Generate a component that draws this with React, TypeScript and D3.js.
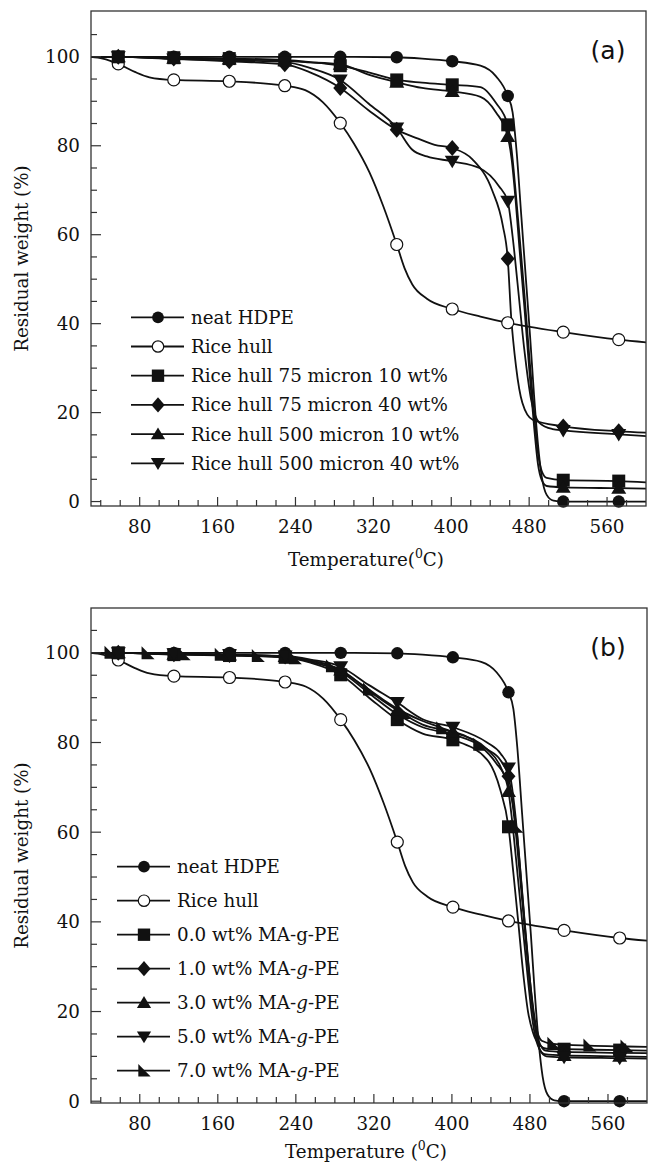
import React from 'react';
import * as d3 from 'd3';

type P = [number, number];

// ---------- shared series (same in both panels) ----------
const hdpeMarks: P[] = [[58,100],[115,100],[172,100],[229,100],[286,100],[344,99.9],[401,99.0],[458,91.2],[515,0],[572,0]];
const hdpeLine: P[] = [[30,100],[300,100],[370,99.6],[430,98.0],[446,95.6],[463,87.5],[467,79],[472,64],[477,49],[481,37],[485,24],[489,13],[493,5.5],[498,1.5],[505,0.2],[600,0]];

const riceMarks: P[] = [[58,98.4],[115,94.8],[172,94.5],[229,93.5],[286,85.1],[344,57.8],[401,43.3],[458,40.2],[515,38.1],[572,36.4]];
const riceLine: P[] = [[30,100],[42,99.6],[75,96.6],[90,95.4],[250,92.5],[268,89.8],[300,80.5],[316,74],[330,66.5],[352,52.5],[360,48.8],[375,45.6],[430,41.6],[600,35.8]];

// ---------- panel (a) ----------
const a75_10Marks: P[] = [[58,100],[115,99.8],[172,99.6],[229,99.3],[286,98.0],[344,94.8],[401,93.7],[458,84.7],[515,4.8],[572,4.6]];
const a75_10Line: P[] = [[30,100],[250,98.9],[315,96.5],[370,94.2],[430,93.2],[446,89.6],[462,79],[466,70],[470,60],[475,47],[480,33],[485,20],[489,11],[493,6.8],[498,5.3],[600,4.3]];

const a75_40Marks: P[] = [[58,100],[115,99.6],[172,99.0],[229,98.3],[286,93.0],[344,83.6],[401,79.5],[458,54.6],[515,16.9],[572,15.8]];
const a75_40Line: P[] = [[30,100],[255,96.5],[315,88.0],[366,81.6],[383,80.2],[422,76.9],[442,70],[453,62],[461.5,41.6],[466.5,30.4],[473,22.2],[483.5,18.4],[600,15.5]];

const a500_10Marks: P[] = [[58,100],[115,99.7],[172,99.5],[229,99.1],[286,98.3],[344,94.3],[401,92.2],[458,82.1],[515,3.2],[572,3.0]];
const a500_10Line: P[] = [[30,100],[250,98.8],[315,96.0],[370,93.0],[430,91.0],[446,87.5],[462,77],[466,68],[470,57],[475,44],[480,30],[485,17],[489,8.5],[493,4.8],[498,3.5],[600,2.9]];

const a500_40Marks: P[] = [[58,100],[115,99.5],[172,99.2],[229,98.8],[286,94.8],[344,84.0],[401,76.5],[458,67.5],[515,16.0],[572,15.1]];
const a500_40Line: P[] = [[30,100],[255,97.5],[315,89.5],[360,79.1],[375,77.6],[429,75],[449,70.9],[463,59.6],[468,49.2],[475,34.2],[482,22.9],[490.5,17.7],[504,16.3],[600,14.7]];

// ---------- panel (b) ----------
const b00Marks: P[] = [[58,100],[115,99.6],[172,99.4],[229,99.0],[286,95.1],[344,85.1],[401,80.6],[458,61.2],[515,11.6],[572,11.4]];
const b00Line: P[] = [[30,100],[255,97.8],[315,90.0],[370,82.0],[436,76.2],[449.5,69.5],[463,50.9],[468,40],[473,28.7],[478,20],[483,15.4],[490,12.5],[497,11.7],[600,11.3]];

const b10Marks: P[] = [[58,100],[115,99.7],[172,99.5],[229,99.2],[286,95.8],[344,86.3],[401,81.8],[458,72.5],[515,11.0],[572,10.8]];
const b10Line: P[] = [[30,100],[255,98.0],[315,91.0],[370,83.4],[436,78.5],[450,76],[464,63],[469,52],[474,40],[479,28],[484,18.5],[489,13.5],[496,11.3],[600,10.7]];

const b30Marks: P[] = [[58,100],[115,99.7],[172,99.5],[229,99.2],[286,96.2],[344,87.2],[401,82.3],[458,69.1],[515,10.2],[572,10.0]];
const b30Line: P[] = [[30,100],[255,98.2],[315,91.5],[370,84.0],[436,78.5],[450,74.5],[463,60],[468,49],[473,38],[478,27],[483,17.5],[488,12.5],[495,10.5],[600,9.9]];

const b50Marks: P[] = [[58,100],[115,99.8],[172,99.6],[229,99.3],[286,96.9],[344,88.9],[401,83.4],[458,74.3],[515,9.8],[572,9.6]];
const b50Line: P[] = [[30,100],[255,98.5],[315,92.8],[370,85.2],[436,80],[450,77.5],[465,64],[470,52],[475,39],[480,27],[485,17],[490,11.5],[497,10],[600,9.5]];

const b70Marks: P[] = [[50,100],[88,99.9],[125,99.7],[163,99.6],[201,99.3],[239,98.8],[277,97.0],[315,91.8],[352,86.6],[390,83.2],[428,79.5],[466,61.2],[504,12.8],[541,12.4],[579,12.2]];
const b70Line: P[] = [[30,100],[255,98.3],[330,89.5],[370,84.8],[445,75.5],[458,70.5],[471,49],[476,36],[481,25],[486,17],[492,13.5],[600,12.1]];

// ---------- labels / ticks ----------
const legendA = ['neat HDPE', 'Rice hull', 'Rice hull 75 micron 10 wt%', 'Rice hull 75 micron 40 wt%', 'Rice hull 500 micron 10 wt%', 'Rice hull 500 micron 40 wt%'];
const legendB = ['neat HDPE', 'Rice hull', '0.0 wt% MA-g-PE', '1.0 wt% MA-g-PE', '3.0 wt% MA-g-PE', '5.0 wt% MA-g-PE', '7.0 wt% MA-g-PE'];
const legendBItalic = [false, false, false, true, true, true, true];
const shapesA = ['circleFilled', 'circleOpen', 'square', 'diamond', 'up', 'down'];
const shapesB = ['circleFilled', 'circleOpen', 'square', 'diamond', 'up', 'down', 'right'];
const xTickLabels = [80, 160, 240, 320, 400, 480, 560];
const xMinorTicks = d3.range(40, 600, 20);
const yTickLabels = [0, 20, 40, 60, 80, 100];
const yMinorTicks = d3.range(0, 110, 5);

const seriesA: { line: P[]; marks: P[] }[] = [
  { line: hdpeLine, marks: hdpeMarks },
  { line: riceLine, marks: riceMarks },
  { line: a75_10Line, marks: a75_10Marks },
  { line: a75_40Line, marks: a75_40Marks },
  { line: a500_10Line, marks: a500_10Marks },
  { line: a500_40Line, marks: a500_40Marks },
];
const seriesB: { line: P[]; marks: P[] }[] = [
  { line: hdpeLine, marks: hdpeMarks },
  { line: riceLine, marks: riceMarks },
  { line: b00Line, marks: b00Marks },
  { line: b10Line, marks: b10Marks },
  { line: b30Line, marks: b30Marks },
  { line: b50Line, marks: b50Marks },
  { line: b70Line, marks: b70Marks },
];

const INK = '#111';
const SERIF = '"DejaVu Serif", serif';
const FS = 18.3;

function Marker({ shape, cx, cy, k = 1 }: { shape: string; cx: number; cy: number; k?: number }) {
  if (shape === 'circleFilled') return <circle cx={cx} cy={cy} r={6.2 * k} fill={INK} />;
  if (shape === 'circleOpen') return <circle cx={cx} cy={cy} r={6 * k} fill="#fff" stroke={INK} strokeWidth={1.2} />;
  if (shape === 'square') { const h = 6.5 * k; return <rect x={cx - h} y={cy - h} width={2 * h} height={2 * h} fill={INK} />; }
  let d = '';
  if (shape === 'diamond') d = `M${cx},${cy - 8 * k}L${cx + 7 * k},${cy}L${cx},${cy + 8 * k}L${cx - 7 * k},${cy}Z`;
  if (shape === 'up') d = `M${cx},${cy - 7 * k}L${cx + 7.5 * k},${cy + 5.5 * k}L${cx - 7.5 * k},${cy + 5.5 * k}Z`;
  if (shape === 'down') d = `M${cx},${cy + 7 * k}L${cx + 7.5 * k},${cy - 5.5 * k}L${cx - 7.5 * k},${cy - 5.5 * k}Z`;
  if (shape === 'right') d = `M${cx - 6 * k},${cy - 7 * k}L${cx + 7 * k},${cy + 6 * k}L${cx - 6 * k},${cy + 6 * k}Z`;
  return <path d={d} fill={INK} />;
}

type PanelProps = {
  id: string;
  top: number; bottom: number; right: number;
  yDomain: [number, number];
  series: { line: P[]; marks: P[] }[];
  shapes: string[];
  legend: string[];
  italic: boolean[];
  legTop: number; legStep: number; legX0: number;
  label: string; labelY: number;
  xTitle: string; xTitleSpace: boolean; xTitleY: number; tickLabelY: number;
};

function LegendText({ text, italic, x, y }: { text: string; italic: boolean; x: number; y: number }) {
  if (!italic) return <text x={x} y={y}>{text}</text>;
  const parts = text.split('-g-');
  return (
    <text x={x} y={y}>
      {parts[0]}-<tspan fontStyle="italic">g</tspan>-{parts[1]}
    </text>
  );
}

function Panel(p: PanelProps) {
  const left = 91;
  const x = d3.scaleLinear().domain([30, 600]).range([left, p.right]);
  const y = d3.scaleLinear().domain(p.yDomain).range([p.bottom, p.top]);
  const line = d3.line<P>().x(d => x(d[0])).y(d => y(d[1])).curve(d3.curveMonotoneX);
  const mid = (p.top + p.bottom) / 2;
  return (
    <g>
      <defs>
        <clipPath id={`clip-${p.id}`}>
          <rect x={left} y={p.top} width={p.right - left} height={p.bottom - p.top} />
        </clipPath>
      </defs>
      <g clipPath={`url(#clip-${p.id})`}>
        {p.series.map((s, i) => {
          const pts = [...s.line, ...s.marks].sort((a, b) => a[0] - b[0]);
          return <path key={i} d={line(pts) || ''} fill="none" stroke={INK} strokeWidth={1.8} />;
        })}
      </g>
      {p.series.map((s, i) => (
        <g key={i}>
          {s.marks.map((m, j) => <Marker key={j} shape={p.shapes[i]} cx={x(m[0])} cy={y(m[1])} />)}
        </g>
      ))}
      <rect x={left} y={p.top} width={p.right - left} height={p.bottom - p.top} fill="none" stroke="#333" strokeWidth={1.3} />
      {xMinorTicks.map(t => {
        const major = xTickLabels.includes(t);
        return <line key={t} x1={x(t)} x2={x(t)} y1={p.bottom} y2={p.bottom - (major ? 9 : 6)} stroke="#333" strokeWidth={1.2} />;
      })}
      {yMinorTicks.map(t => {
        const major = yTickLabels.includes(t);
        return <line key={t} x1={left} x2={left + (major ? 10 : 6)} y1={y(t)} y2={y(t)} stroke="#333" strokeWidth={1.2} />;
      })}
      <g fontFamily={SERIF} fontSize={FS} fill={INK}>
        {xTickLabels.map(t => <text key={t} x={x(t)} y={p.tickLabelY} textAnchor="middle">{t}</text>)}
        {yTickLabels.map(t => <text key={t} x={80} y={y(t) + 6.5} textAnchor="end">{t}</text>)}
        <text transform={`translate(28,${mid}) rotate(-90)`} textAnchor="middle">Residual weight (%)</text>
        <text x={366} y={p.xTitleY} textAnchor="middle">
          {p.xTitle}{p.xTitleSpace ? ' ' : ''}(<tspan fontSize={12.5} dy={-8}>0</tspan><tspan dy={8}>C)</tspan>
        </text>
        {p.legend.map((name, i) => {
          const cy = p.legTop + i * p.legStep;
          return (
            <g key={i}>
              <line x1={p.legX0} x2={p.legX0 + 53} y1={cy} y2={cy} stroke={INK} strokeWidth={1.8} />
              <Marker shape={p.shapes[i]} cx={p.legX0 + 27} cy={cy} k={0.95} />
              <LegendText text={name} italic={p.italic[i]} x={p.legX0 + 60} y={cy + 6.5} />
            </g>
          );
        })}
      </g>
      <text x={608} y={p.labelY} textAnchor="middle" fontFamily='"DejaVu Sans", sans-serif' fontSize={25} fill={INK}>{p.label}</text>
    </g>
  );
}

export default function App() {
  return (
    <svg width={649} height={1165} style={{ position: 'absolute', left: 0, top: 0, background: '#fff' }}>
      <rect x={0} y={0} width={649} height={1165} fill="#fff" />
      <Panel id="a" top={11} bottom={506} right={646} yDomain={[-1, 110.3]}
        series={seriesA} shapes={shapesA} legend={legendA} italic={legendA.map(() => false)}
        legTop={317.3} legStep={29.2} legX0={131}
        label="(a)" labelY={59} xTitle="Temperature" xTitleSpace={false} xTitleY={566} tickLabelY={533} />
      <Panel id="b" top={608} bottom={1103} right={647} yDomain={[-0.4, 110]}
        series={seriesB} shapes={shapesB} legend={legendB} italic={legendBItalic}
        legTop={866.7} legStep={34} legX0={117}
        label="(b)" labelY={656} xTitle="Temperature" xTitleSpace={true} xTitleY={1158} tickLabelY={1130} />
    </svg>
  );
}
